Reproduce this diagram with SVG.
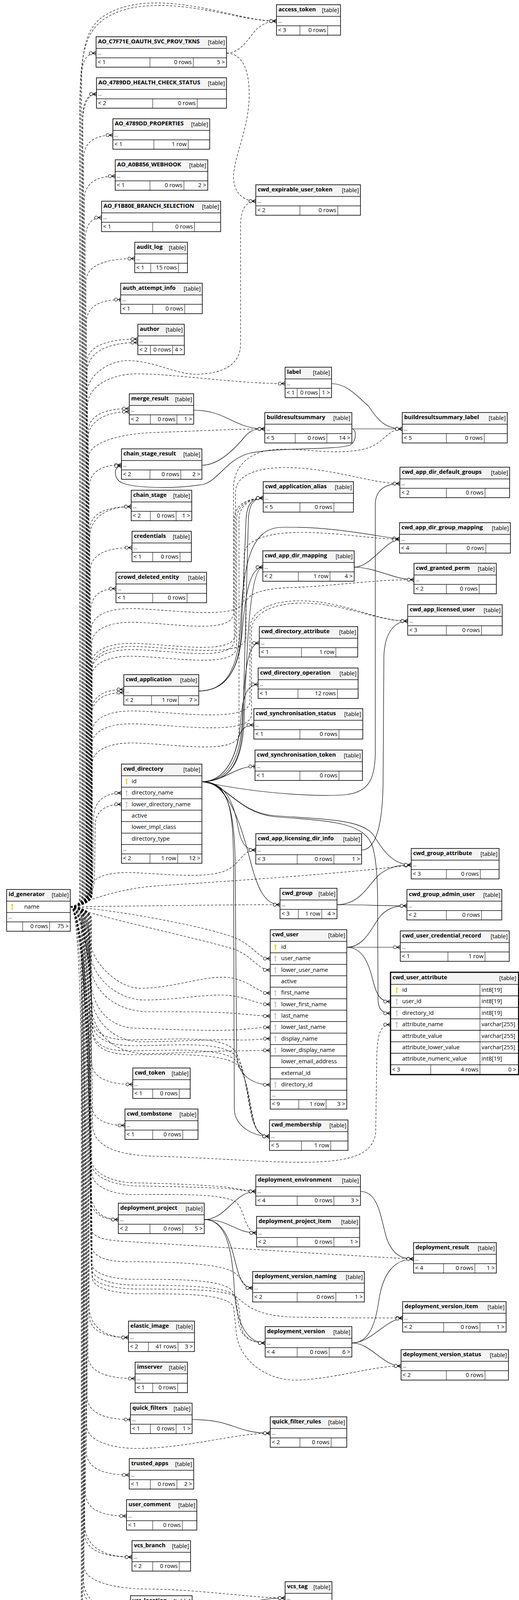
<svg xmlns="http://www.w3.org/2000/svg" width="1329" height="4428" viewBox="0 0 1329 4428">
<style>
.tb{fill:#fff;stroke:none}
.hd{fill:#f4f4f4;stroke:none}
.ol{fill:none;stroke:#000;stroke-width:1.6}
.olb{fill:none;stroke:#000;stroke-width:3}
.sp{fill:none;stroke:#111;stroke-width:1.6}
.cd{fill:none;stroke:#000;stroke-width:1}
text{font-family:'Open Sans','DejaVu Sans',sans-serif;font-size:14.67px;fill:#000}
.ti{font-weight:bold}
.e{text-anchor:end}
.dt{font-size:12px}
.d{fill:none;stroke:#000;stroke-width:1.1;stroke-dasharray:6 4}
.s{fill:none;stroke:#000;stroke-width:1.2}
.m{marker-end:url(#crow)}
.mt{marker-end:url(#tee)}
</style>
<defs>
<marker id="crow" markerUnits="userSpaceOnUse" markerWidth="26" markerHeight="16" viewBox="-22 -8 26 16" refX="0" refY="0" orient="auto">
<path d="M0,-5 L-9,0 L0,5 M-9,0 H0" fill="none" stroke="#000" stroke-width="1.3"/>
<circle cx="-13.5" cy="0" r="4" fill="#fff" stroke="#000" stroke-width="1.2"/>
</marker>
<marker id="tee" markerUnits="userSpaceOnUse" markerWidth="26" markerHeight="16" viewBox="-22 -8 26 16" refX="0" refY="0" orient="auto">
<path d="M-3,-5 V5 M-8,0 H0" fill="none" stroke="#000" stroke-width="1.5"/>
<circle cx="-12" cy="0" r="4" fill="#fff" stroke="#000" stroke-width="1.2"/>
</marker>
<g id="ky"><circle cx="0" cy="-4.5" r="2.6"/><rect x="-1.1" y="-3" width="2.2" height="11"/><rect x="0" y="4" width="2.6" height="1.6"/></g>
</defs>
<rect x="0" y="0" width="1329" height="4428" fill="#fff"/>

<g id="connectors">
<path class="d m" d="M180,2321 C200,2321 209,2312 209,2290 L209,196 C209,156 222,136 246,136"/>
<path class="d m" d="M180,2321 C200,2321 212,2312 212,2290 L212,301 C212,261 224,241 247,241"/>
<path class="d m" d="M180,2321 C200,2321 211,2312 211,2290 L211,325 C211,270 224,241 247,241"/>
<path class="d m" d="M180,2321 C200,2321 214,2312 214,2290 L214,406 C214,366 240,346 289,346"/>
<path class="d m" d="M180,2321 C200,2321 216,2312 216,2290 L216,511 C216,471 244,451 295,451"/>
<path class="d m" d="M180,2321 C200,2321 218,2312 218,2290 L218,617 C218,577 233,557 260,557"/>
<path class="d m" d="M180,2321 C200,2321 220,2312 220,2290 L220,722 C220,682 264,662 345,662"/>
<path class="d mt" d="M180,2321 C200,2321 221,2312 221,2290 L221,827 C221,787 252,767 309,767"/>
<path class="d m" d="M180,2321 C200,2321 223,2312 223,2290 L223,928 C223,888 269,868 353,868"/>
<path class="d m" d="M180,2321 C200,2321 222,2312 222,2290 L222,957 C222,905 268,877 353,877"/>
<path class="d m" d="M180,2321 C200,2321 226,2312 226,2290 L226,1106 C226,1066 263,1046 331,1046"/>
<path class="d m" d="M180,2321 C200,2321 225,2312 225,2290 L225,1124 C225,1084 262,1054 331,1054"/>
<path class="d m" d="M180,2321 C200,2321 228,2312 228,2290 L228,1250 C228,1210 257,1190 311,1190"/>
<path class="d m" d="M180,2321 C200,2321 230,2312 230,2290 L230,1357 C230,1317 267,1297 336,1297"/>
<path class="d m" d="M180,2321 C200,2321 229,2312 229,2290 L229,1380 C229,1330 266,1297 336,1297"/>
<path class="d m" d="M180,2321 C200,2321 231,2312 231,2290 L231,1462 C231,1422 268,1402 338,1402"/>
<path class="d m" d="M180,2321 C200,2321 232,2312 232,2290 L232,1567 C232,1527 255,1507 297,1507"/>
<path class="d m" d="M180,2321 C200,2321 234,2312 234,2290 L234,1825 C234,1785 263,1765 317,1765"/>
<path class="d m" d="M180,2321 C200,2321 233,2312 233,2290 L233,1840 C233,1795 262,1773 317,1773"/>
<path class="d m" d="M180,2321 C205,2321 236,2300 238,2250 L240,2090 C241,2050 270,2030 311,2030"/>
<path class="d m" d="M180,2321 C205,2321 240,2300 242,2250 L244,2110 C245,2075 272,2059 311,2059"/>
<path class="d m" d="M180,2321 C200,2321 234,2330 234,2352 L234,2716 C234,2756 271,2776 340,2776"/>
<path class="d m" d="M180,2321 C200,2321 233,2330 233,2352 L233,2821 C233,2861 263,2881 320,2881"/>
<path class="d m" d="M180,2321 C200,2321 231,2330 231,2352 L231,3062 C231,3102 256,3122 303,3122"/>
<path class="d m" d="M180,2321 C200,2321 230,2330 230,2352 L230,3032 C230,3092 255,3122 303,3122"/>
<path class="d m" d="M180,2321 C200,2321 228,2330 228,2352 L228,3364 C228,3404 263,3424 329,3424"/>
<path class="d m" d="M180,2321 C200,2321 227,2330 227,2352 L227,3334 C227,3394 262,3424 329,3424"/>
<path class="d m" d="M180,2321 C200,2321 225,2330 225,2352 L225,3469 C225,3509 267,3529 346,3529"/>
<path class="d mt" d="M180,2321 C200,2321 223,2330 223,2352 L223,3574 C223,3614 262,3634 334,3634"/>
<path class="d m" d="M180,2321 C200,2321 221,2330 221,2352 L221,3716 C221,3756 260,3776 331,3776"/>
<path class="d m" d="M180,2321 C200,2321 219,2330 219,2352 L219,3821 C219,3861 255,3881 324,3881"/>
<path class="d m" d="M180,2321 C200,2321 217,2330 217,2352 L217,3926 C217,3966 259,3986 338,3986"/>
<path class="d m" d="M180,2321 C200,2321 216,2330 216,2352 L216,3896 C216,3956 258,3986 338,3986"/>
<path class="d m" d="M180,2321 C200,2321 214,2330 214,2352 L214,4067 C214,4107 256,4127 334,4127"/>
<path class="d m" d="M180,2321 C200,2321 213,2330 213,2352 L213,4037 C213,4097 255,4127 334,4127"/>
<path class="d m" d="M180,2321 C200,2321 211,2330 211,2352 L211,4173 C211,4213 245,4233 307,4233"/>
<path class="d m" d="M180,2321 C200,2321 210,2330 210,2352 L210,4143 C210,4203 244,4233 307,4233"/>
<path class="d mt" d="M180,2321 C200,2321 208,2330 208,2352 L208,4278 C208,4318 243,4338 306,4338"/>
<path class="d m" d="M180,2321 C200,2321 206,2312 206,2290 L206,300 C206,140 215,80 260,45 C310,10 370,6 420,8 C540,14 630,54 708,54"/>
<path class="d m" d="M180,2321 C200,2321 204,2312 204,2290 L204,300 C204,150 214,90 262,52 C312,16 375,13 425,14 C545,20 630,54 708,54"/>
<path class="d m" d="M580,136 C620,136 640,90 660,72 C675,60 690,54 708,54"/>
<path class="d m" d="M580,136 C615,136 640,170 638,250 C636,330 600,400 598,450 C597,490 620,515 655,515"/>
<path class="d m" d="M180,2321 C200,2321 222,2312 222,2290 L222,1010 C222,960 280,922 330,923 C400,925 450,960 510,958 C570,955 616,935 616,880 L616,580 C616,535 630,515 655,515"/>
<path class="d m" d="M180,2321 C200,2321 224,2312 224,2290 L224,1040 C224,985 290,957 350,957 C450,957 600,982 730,982"/>
<path class="d m" d="M180,2321 C200,2321 227,2312 227,2290 L227,1170 C227,1135 300,1110 400,1107 C520,1103 600,1098 678,1098"/>
<path class="d m" d="M180,2321 C200,2321 235,2312 235,2290 L235,1648 C235,1608 285,1593 335,1593 C435,1593 598,1628 598,1568 L598,1250 C598,1185 650,1150 720,1150 C800,1150 860,1165 930,1150 C985,1138 990,1098 1030,1098"/>
<path class="d m" d="M180,2321 C200,2321 234,2312 234,2290 L234,1702 C234,1662 284,1647 334,1647 C434,1647 603,1682 603,1622 L603,1260 C603,1220 650,1197 730,1197 C850,1197 950,1238 1024,1238"/>
<path class="d m" d="M180,2321 C200,2321 233,2312 233,2290 L233,1613 C233,1573 283,1558 333,1558 C433,1558 625,1593 625,1533 L625,1420 C625,1385 680,1363 770,1363 C870,1363 950,1380 1023,1380"/>
<path class="d m" d="M180,2321 C200,2321 236,2312 236,2290 L236,1710 C236,1670 286,1655 336,1655 C436,1655 630,1690 630,1630 L630,1545 C630,1518 680,1506 750,1504 C860,1500 950,1484 1060,1484"/>
<path class="d m" d="M180,2321 C200,2321 235,2312 235,2290 L235,1718 C235,1678 285,1663 335,1663 C435,1663 600,1698 600,1638 L600,1330 C600,1295 630,1275 674,1275"/>
<path class="d m" d="M180,2321 C200,2321 234,2312 234,2290 L234,1735 C234,1695 284,1680 334,1680 C434,1680 606,1715 606,1655 L606,1330 C606,1295 635,1275 674,1275"/>
<path class="d m" d="M180,2321 C200,2321 236,2312 236,2290 L236,1957 C236,1917 286,1902 336,1902 C436,1902 612,1937 612,1877 L612,1330 C612,1295 640,1275 674,1275"/>
<path class="d m" d="M180,2321 C200,2321 236,2312 236,2290 L236,1875 C236,1835 286,1820 336,1820 C436,1820 640,1855 640,1795 L640,1610 C640,1565 690,1540 760,1538 C880,1536 960,1590 1044,1590"/>
<path class="d m" d="M180,2321 C200,2321 235,2312 235,2290 L235,1908 C235,1868 285,1853 335,1853 C435,1853 644,1888 644,1828 L644,1614 C644,1572 695,1546 765,1544 C880,1542 960,1590 1044,1590"/>
<path class="d m" d="M180,2321 C200,2321 228,2300 232,2272 C238,2240 290,2232 343,2234 C430,2238 530,2250 580,2228 C615,2212 620,2176 655,2176"/>
<path class="d m" d="M180,2321 C230,2305 300,2275 400,2268 C600,2255 900,2235 1053,2214"/>
<path class="d m" d="M180,2321 C350,2320 550,2316 717,2316"/>
<path class="d m" d="M180,2321 C300,2330 520,2370 600,2400 C650,2420 660,2454 692,2454"/>
<path class="d m" d="M180,2321 C260,2350 500,2400 600,2430 C650,2450 660,2483 692,2483"/>
<path class="d m" d="M180,2321 C210,2321 228,2340 229,2400 C230,2460 300,2530 360,2530 C450,2530 540,2490 600,2505 C650,2518 660,2542 692,2542"/>
<path class="d m" d="M180,2321 C210,2321 229,2350 230,2430 C231,2500 300,2560 370,2560 C460,2560 550,2540 600,2550 C650,2560 660,2571 692,2571"/>
<path class="d m" d="M180,2321 C210,2321 230,2360 231,2460 C232,2540 300,2590 380,2590 C470,2590 560,2590 610,2595 C650,2598 665,2601 692,2601"/>
<path class="d m" d="M180,2321 C210,2321 231,2380 232,2500 C233,2590 290,2630 343,2632 C450,2636 560,2640 610,2636 C650,2633 665,2630 692,2630"/>
<path class="d m" d="M180,2321 C210,2321 232,2400 233,2540 C234,2620 300,2667 360,2667 C450,2667 540,2660 600,2662 C650,2664 665,2659 692,2659"/>
<path class="d m" d="M180,2321 C210,2321 233,2420 234,2570 C235,2650 300,2697 370,2697 C460,2697 550,2690 610,2690 C650,2690 665,2689 692,2689"/>
<path class="d m" d="M180,2321 C210,2321 234,2450 235,2600 C236,2650 280,2662 330,2662 C430,2662 540,2650 590,2680 C625,2700 630,2800 645,2860 C655,2895 668,2909 690,2909"/>
<path class="d m" d="M180,2321 C210,2321 235,2460 236,2615 C237,2665 290,2677 343,2677 C440,2677 545,2665 594,2695 C627,2715 633,2810 647,2865 C656,2897 669,2909 690,2909"/>
<path class="d m" d="M180,2321 C210,2321 235,2470 236,2630 C237,2680 280,2690 326,2690 C430,2690 550,2680 598,2710 C630,2730 636,2820 649,2870 C657,2899 670,2909 690,2909"/>
<path class="d m" d="M180,2321 C210,2321 236,2480 237,2640 C238,2690 290,2700 343,2700 C440,2700 555,2695 602,2722 C633,2742 639,2828 651,2873 C658,2900 671,2909 690,2909"/>
<path class="d m" d="M180,2321 C210,2321 236,2500 237,2880 C238,2930 290,2958 400,2960 C550,2964 700,2978 800,2975 C900,2972 955,2955 962,2900 L965,2700 C967,2645 975,2623 1000,2623"/>
<path class="d m" d="M180,2321 C210,2321 232,2600 232,2960 C232,3005 290,3027 343,3028 C450,3030 560,3035 600,3042 C625,3046 635,3050 655,3050"/>
<path class="d m" d="M180,2321 C210,2321 233,2620 233,2975 C233,3015 295,3035 350,3036 C455,3038 560,3040 605,3045 C628,3048 638,3050 655,3050"/>
<path class="d m" d="M180,2321 C210,2321 235,2600 235,3000 C235,3040 290,3058 343,3058 C450,3058 560,3055 600,3075 C628,3090 625,3156 657,3156"/>
<path class="d m" d="M180,2321 C210,2321 232,2650 232,3140 C232,3165 260,3175 320,3178 C600,3195 900,3215 1059,3223"/>
<path class="d m" d="M180,2321 C210,2321 232,2680 232,3180 C232,3215 265,3230 330,3230 C440,3230 560,3235 595,3255 C625,3272 620,3297 647,3297"/>
<path class="d m" d="M180,2321 C210,2321 233,2700 233,3230 C233,3262 290,3275 343,3275 C450,3275 560,3275 590,3300 C606,3315 606,3340 610,3380 C614,3420 640,3438 679,3438"/>
<path class="d m" d="M180,2321 C210,2321 234,2710 234,3245 C234,3277 295,3290 350,3290 C455,3290 563,3292 595,3312 C612,3326 612,3350 616,3388 C620,3424 645,3438 679,3438"/>
<path class="d m" d="M180,2321 C210,2321 235,2720 235,3260 C235,3290 300,3300 360,3300 C460,3300 575,3300 605,3320 C630,3338 650,3370 760,3372 C900,3374 980,3374 1031,3374"/>
<path class="d m" d="M180,2321 C210,2321 236,2730 236,3270 C236,3300 300,3312 360,3312 C470,3312 580,3312 598,3345 L606,3420 C615,3480 680,3535 760,3533 C860,3530 950,3497 1027,3497"/>
<path class="d m" d="M180,2321 C210,2321 222,2700 222,3650 C222,3690 290,3708 350,3708 C480,3708 600,3669 692,3669"/>
<path class="d m" d="M180,2321 C210,2321 215,2800 215,4010 C215,4050 300,4068 380,4068 C500,4068 650,4091 730,4091"/>

<path class="s m" d="M496,1050 C580,1050 600,1098 678,1098"/>
<path class="s m" d="M517,1191 C560,1191 600,1150 625,1120 C640,1102 650,1098 678,1098"/>
<path class="s m" d="M901,1098 L1030,1098"/>
<path class="s m" d="M849,982 C890,982 920,1020 944,1040 C970,1080 990,1098 1030,1098"/>
<path class="s m" d="M901,1098 C914,1098 914,1132 895,1140 C860,1152 700,1146 640,1160 C580,1175 560,1230 520,1240 C450,1252 345,1250 312,1236 C290,1226 290,1193 311,1193"/>
<path class="s m" d="M509,1769 C575,1769 612,1720 618,1620 L630,1330 C632,1290 645,1275 674,1275"/>
<path class="s m" d="M509,1769 C575,1769 612,1720 620,1620 C628,1520 640,1452 673,1452"/>
<path class="s m" d="M509,1769 C575,1769 610,1720 616,1600 C622,1450 640,1352 720,1350 C850,1347 960,1372 1023,1380"/>
<path class="s m" d="M517,2001 C590,2001 618,1950 622,1850 L636,1330 C638,1290 650,1275 674,1275"/>
<path class="s m" d="M517,2001 C590,2001 620,1950 625,1850 C632,1650 640,1452 673,1452"/>
<path class="s m" d="M517,2001 C585,2001 615,1940 620,1850 C626,1740 630,1646 664,1646"/>
<path class="s m" d="M517,2001 C580,2001 610,1930 616,1850 C620,1790 630,1752 661,1752"/>
<path class="s m" d="M517,2001 C575,2001 600,1940 608,1900 C614,1870 625,1856 650,1856"/>
<path class="s mt" d="M517,2001 C575,2001 600,1962 653,1962"/>
<path class="s m" d="M517,2001 C580,2001 600,2060 610,2120 C618,2160 630,2176 655,2176"/>
<path class="s m" d="M517,2001 C580,2001 615,2100 640,2200 C660,2280 680,2316 717,2316"/>
<path class="s m" d="M517,2001 C585,2001 600,2080 602,2200 L606,2700 C608,2755 650,2777 692,2777"/>
<path class="s m" d="M517,2001 C590,2001 596,2080 598,2200 L600,2840 C602,2885 650,2909 690,2909"/>
<path class="s m" d="M517,2001 C580,2005 610,2080 700,2088 C840,2098 930,2098 958,2140 C985,2185 1010,2214 1053,2214"/>
<path class="s m" d="M517,2001 C580,2005 612,2083 705,2091 C840,2102 935,2102 955,2170 C965,2210 967,2260 967,2320 L968,2560 C969,2585 980,2594 1000,2594"/>
<path class="s m" d="M517,2001 C650,2030 800,2040 880,2035 C940,2030 960,2000 961,1930 L961,1290 C962,1252 990,1238 1024,1238"/>
<path class="s m" d="M907,1452 C950,1452 985,1385 1023,1380"/>
<path class="s m" d="M907,1452 C960,1452 1010,1484 1060,1484"/>
<path class="s m" d="M926,2176 C960,2176 980,2120 981,2000 L983,1680 C985,1620 1010,1590 1044,1590"/>
<path class="s m" d="M863,2316 C950,2316 960,2319 1042,2319"/>
<path class="s m" d="M863,2316 C920,2316 940,2270 970,2240 C995,2220 1020,2214 1053,2214"/>
<path class="s m" d="M888,2425 L1025,2425"/>
<path class="s m" d="M888,2425 C930,2425 950,2380 970,2350 C990,2325 1010,2319 1042,2319"/>
<path class="s m" d="M888,2425 C930,2425 945,2470 955,2510 C965,2550 975,2564 1000,2564"/>
<path class="s m" d="M523,3122 C580,3122 600,3050 655,3050"/>
<path class="s m" d="M523,3122 C590,3122 600,3156 657,3156"/>
<path class="s m" d="M523,3122 C575,3122 590,3180 605,3240 C615,3280 625,3297 647,3297"/>
<path class="s m" d="M523,3122 C580,3122 595,3200 600,3300 C605,3400 640,3438 679,3438"/>
<path class="s m" d="M923,3050 C970,3050 975,3120 990,3170 C1005,3210 1025,3223 1059,3223"/>
<path class="s m" d="M901,3438 C940,3438 960,3400 970,3330 C980,3260 1010,3223 1059,3223"/>
<path class="s m" d="M901,3438 C950,3438 985,3380 1031,3374"/>
<path class="s m" d="M901,3438 C950,3438 980,3497 1027,3497"/>
<path class="s m" d="M492,3634 C600,3634 600,3669 692,3669"/>
<path class="s m" d="M492,4127 C620,4127 620,4091 730,4091"/>
</g>

<g id="access_token"><rect class="tb" x="708" y="12" width="164" height="78"/><rect class="hd" x="708" y="12" width="164" height="30"/><path class="sp" d="M708 42H872M708 66H872"/><path class="cd" d="M768 66V90M839 66V90"/><rect class="ol" x="708" y="12" width="164" height="78"/><text class="ti" x="713" y="29">access_token</text><text class="e" x="868" y="31">[table]</text><text class="dt" x="712" y="58">...</text><text x="712" y="82">&lt; 3</text><text class="e" x="835" y="82">0 rows</text></g>

<g id="AO_C7F71E_OAUTH_SVC_PROV_TKNS"><rect class="tb" x="246" y="94" width="334" height="78"/><rect class="hd" x="246" y="94" width="334" height="30"/><path class="sp" d="M246 124H580M246 148H580"/><path class="cd" d="M384 148V172M495 148V172"/><rect class="ol" x="246" y="94" width="334" height="78"/><text class="ti" x="251" y="111">AO_C7F71E_OAUTH_SVC_PROV_TKNS</text><text class="e" x="576" y="113">[table]</text><text class="dt" x="250" y="140">...</text><text x="250" y="164">&lt; 1</text><text class="e" x="491" y="164">0 rows</text><text class="e" x="576" y="164">5 &gt;</text></g>

<g id="AO_4789DD_HEALTH_CHECK_STATUS"><rect class="tb" x="247" y="199" width="333" height="78"/><rect class="hd" x="247" y="199" width="333" height="30"/><path class="sp" d="M247 229H580M247 253H580"/><path class="cd" d="M391 253V277M505 253V277"/><rect class="ol" x="247" y="199" width="333" height="78"/><text class="ti" x="252" y="216">AO_4789DD_HEALTH_CHECK_STATUS</text><text class="e" x="576" y="218">[table]</text><text class="dt" x="251" y="245">...</text><text x="251" y="269">&lt; 2</text><text class="e" x="501" y="269">0 rows</text></g>

<g id="AO_4789DD_PROPERTIES"><rect class="tb" x="289" y="304" width="248" height="78"/><rect class="hd" x="289" y="304" width="248" height="30"/><path class="sp" d="M289 334H537M289 358H537"/><path class="cd" d="M394 358V382M482 358V382"/><rect class="ol" x="289" y="304" width="248" height="78"/><text class="ti" x="294" y="321">AO_4789DD_PROPERTIES</text><text class="e" x="533" y="323">[table]</text><text class="dt" x="293" y="350">...</text><text x="293" y="374">&lt; 1</text><text class="e" x="478" y="374">1 row</text></g>

<g id="AO_A0B856_WEBHOOK"><rect class="tb" x="295" y="409" width="237" height="78"/><rect class="hd" x="295" y="409" width="237" height="30"/><path class="sp" d="M295 439H532M295 463H532"/><path class="cd" d="M384 463V487M471 463V487"/><rect class="ol" x="295" y="409" width="237" height="78"/><text class="ti" x="300" y="426">AO_A0B856_WEBHOOK</text><text class="e" x="528" y="428">[table]</text><text class="dt" x="299" y="455">...</text><text x="299" y="479">&lt; 1</text><text class="e" x="467" y="479">0 rows</text><text class="e" x="528" y="479">2 &gt;</text></g>

<g id="cwd_expirable_user_token"><rect class="tb" x="655" y="473" width="268" height="78"/><rect class="hd" x="655" y="473" width="268" height="30"/><path class="sp" d="M655 503H923M655 527H923"/><path class="cd" d="M768 527V551M865 527V551"/><rect class="ol" x="655" y="473" width="268" height="78"/><text class="ti" x="660" y="490">cwd_expirable_user_token</text><text class="e" x="919" y="492">[table]</text><text class="dt" x="659" y="519">...</text><text x="659" y="543">&lt; 2</text><text class="e" x="861" y="543">0 rows</text></g>

<g id="AO_F1B80E_BRANCH_SELECTION"><rect class="tb" x="260" y="515" width="305" height="78"/><rect class="hd" x="260" y="515" width="305" height="30"/><path class="sp" d="M260 545H565M260 569H565"/><path class="cd" d="M391 569V593M498 569V593"/><rect class="ol" x="260" y="515" width="305" height="78"/><text class="ti" x="265" y="532">AO_F1B80E_BRANCH_SELECTION</text><text class="e" x="561" y="534">[table]</text><text class="dt" x="264" y="561">...</text><text x="264" y="585">&lt; 1</text><text class="e" x="494" y="585">0 rows</text></g>

<g id="audit_log"><rect class="tb" x="345" y="620" width="135" height="78"/><rect class="hd" x="345" y="620" width="135" height="30"/><path class="sp" d="M345 650H480M345 674H480"/><path class="cd" d="M386 674V698M457 674V698"/><rect class="ol" x="345" y="620" width="135" height="78"/><text class="ti" x="350" y="637">audit_log</text><text class="e" x="476" y="639">[table]</text><text class="dt" x="349" y="666">...</text><text x="349" y="690">&lt; 1</text><text class="e" x="453" y="690">15 rows</text></g>

<g id="auth_attempt_info"><rect class="tb" x="309" y="725" width="209" height="78"/><rect class="hd" x="309" y="725" width="209" height="30"/><path class="sp" d="M309 755H518M309 779H518"/><path class="cd" d="M391 779V803M473 779V803"/><rect class="ol" x="309" y="725" width="209" height="78"/><text class="ti" x="314" y="742">auth_attempt_info</text><text class="e" x="514" y="744">[table]</text><text class="dt" x="313" y="771">...</text><text x="313" y="795">&lt; 1</text><text class="e" x="469" y="795">0 rows</text></g>

<g id="author"><rect class="tb" x="353" y="830" width="119" height="78"/><rect class="hd" x="353" y="830" width="119" height="30"/><path class="sp" d="M353 860H472M353 884H472"/><path class="cd" d="M385 884V908M442 884V908"/><rect class="ol" x="353" y="830" width="119" height="78"/><text class="ti" x="358" y="847">author</text><text class="e" x="468" y="849">[table]</text><text class="dt" x="357" y="876">...</text><text x="357" y="900">&lt; 2</text><text class="e" x="438" y="900">0 rows</text><text class="e" x="468" y="900">4 &gt;</text></g>

<g id="label"><rect class="tb" x="730" y="940" width="119" height="78"/><rect class="hd" x="730" y="940" width="119" height="30"/><path class="sp" d="M730 970H849M730 994H849"/><path class="cd" d="M761 994V1018M818 994V1018"/><rect class="ol" x="730" y="940" width="119" height="78"/><text class="ti" x="735" y="957">label</text><text class="e" x="845" y="959">[table]</text><text class="dt" x="734" y="986">...</text><text x="734" y="1010">&lt; 1</text><text class="e" x="814" y="1010">0 rows</text><text class="e" x="845" y="1010">1 &gt;</text></g>

<g id="merge_result"><rect class="tb" x="331" y="1008" width="165" height="78"/><rect class="hd" x="331" y="1008" width="165" height="30"/><path class="sp" d="M331 1038H496M331 1062H496"/><path class="cd" d="M385 1062V1086M453 1062V1086"/><rect class="ol" x="331" y="1008" width="165" height="78"/><text class="ti" x="336" y="1025">merge_result</text><text class="e" x="492" y="1027">[table]</text><text class="dt" x="335" y="1054">...</text><text x="335" y="1078">&lt; 2</text><text class="e" x="449" y="1078">0 rows</text><text class="e" x="492" y="1078">1 &gt;</text></g>

<g id="buildresultsummary"><rect class="tb" x="678" y="1056" width="223" height="78"/><rect class="hd" x="678" y="1056" width="223" height="30"/><path class="sp" d="M678 1086H901M678 1110H901"/><path class="cd" d="M756 1110V1134M837 1110V1134"/><rect class="ol" x="678" y="1056" width="223" height="78"/><text class="ti" x="683" y="1073">buildresultsummary</text><text class="e" x="897" y="1075">[table]</text><text class="dt" x="682" y="1102">...</text><text x="682" y="1126">&lt; 5</text><text class="e" x="833" y="1126">0 rows</text><text class="e" x="897" y="1126">14 &gt;</text></g>

<g id="buildresultsummary_label"><rect class="tb" x="1030" y="1056" width="269" height="78"/><rect class="hd" x="1030" y="1056" width="269" height="30"/><path class="sp" d="M1030 1086H1299M1030 1110H1299"/><path class="cd" d="M1143 1110V1134M1240 1110V1134"/><rect class="ol" x="1030" y="1056" width="269" height="78"/><text class="ti" x="1035" y="1073">buildresultsummary_label</text><text class="e" x="1295" y="1075">[table]</text><text class="dt" x="1034" y="1102">...</text><text x="1034" y="1126">&lt; 5</text><text class="e" x="1236" y="1126">0 rows</text></g>

<g id="chain_stage_result"><rect class="tb" x="311" y="1149" width="206" height="78"/><rect class="hd" x="311" y="1149" width="206" height="30"/><path class="sp" d="M311 1179H517M311 1203H517"/><path class="cd" d="M384 1203V1227M463 1203V1227"/><rect class="ol" x="311" y="1149" width="206" height="78"/><text class="ti" x="316" y="1166">chain_stage_result</text><text class="e" x="513" y="1168">[table]</text><text class="dt" x="315" y="1195">...</text><text x="315" y="1219">&lt; 2</text><text class="e" x="459" y="1219">0 rows</text><text class="e" x="513" y="1219">2 &gt;</text></g>

<g id="cwd_app_dir_default_groups"><rect class="tb" x="1024" y="1196" width="281" height="78"/><rect class="hd" x="1024" y="1196" width="281" height="30"/><path class="sp" d="M1024 1226H1305M1024 1250H1305"/><path class="cd" d="M1143 1250V1274M1242 1250V1274"/><rect class="ol" x="1024" y="1196" width="281" height="78"/><text class="ti" x="1029" y="1213">cwd_app_dir_default_groups</text><text class="e" x="1301" y="1215">[table]</text><text class="dt" x="1028" y="1242">...</text><text x="1028" y="1266">&lt; 2</text><text class="e" x="1238" y="1266">0 rows</text></g>

<g id="cwd_application_alias"><rect class="tb" x="674" y="1233" width="231" height="78"/><rect class="hd" x="674" y="1233" width="231" height="30"/><path class="sp" d="M674 1263H905M674 1287H905"/><path class="cd" d="M768 1287V1311M855 1287V1311"/><rect class="ol" x="674" y="1233" width="231" height="78"/><text class="ti" x="679" y="1250">cwd_application_alias</text><text class="e" x="901" y="1252">[table]</text><text class="dt" x="678" y="1279">...</text><text x="678" y="1303">&lt; 5</text><text class="e" x="851" y="1303">0 rows</text></g>

<g id="chain_stage"><rect class="tb" x="336" y="1255" width="155" height="78"/><rect class="hd" x="336" y="1255" width="155" height="30"/><path class="sp" d="M336 1285H491M336 1309H491"/><path class="cd" d="M385 1309V1333M451 1309V1333"/><rect class="ol" x="336" y="1255" width="155" height="78"/><text class="ti" x="341" y="1272">chain_stage</text><text class="e" x="487" y="1274">[table]</text><text class="dt" x="340" y="1301">...</text><text x="340" y="1325">&lt; 2</text><text class="e" x="447" y="1325">0 rows</text><text class="e" x="487" y="1325">1 &gt;</text></g>

<g id="cwd_app_dir_group_mapping"><rect class="tb" x="1023" y="1338" width="284" height="78"/><rect class="hd" x="1023" y="1338" width="284" height="30"/><path class="sp" d="M1023 1368H1307M1023 1392H1307"/><path class="cd" d="M1143 1392V1416M1244 1392V1416"/><rect class="ol" x="1023" y="1338" width="284" height="78"/><text class="ti" x="1028" y="1355">cwd_app_dir_group_mapping</text><text class="e" x="1303" y="1357">[table]</text><text class="dt" x="1027" y="1384">...</text><text x="1027" y="1408">&lt; 4</text><text class="e" x="1240" y="1408">0 rows</text></g>

<g id="credentials"><rect class="tb" x="338" y="1360" width="152" height="78"/><rect class="hd" x="338" y="1360" width="152" height="30"/><path class="sp" d="M338 1390H490M338 1414H490"/><path class="cd" d="M391 1414V1438M461 1414V1438"/><rect class="ol" x="338" y="1360" width="152" height="78"/><text class="ti" x="343" y="1377">credentials</text><text class="e" x="486" y="1379">[table]</text><text class="dt" x="342" y="1406">...</text><text x="342" y="1430">&lt; 1</text><text class="e" x="457" y="1430">0 rows</text></g>

<g id="cwd_app_dir_mapping"><rect class="tb" x="673" y="1410" width="234" height="78"/><rect class="hd" x="673" y="1410" width="234" height="30"/><path class="sp" d="M673 1440H907M673 1464H907"/><path class="cd" d="M764 1464V1488M845 1464V1488"/><rect class="ol" x="673" y="1410" width="234" height="78"/><text class="ti" x="678" y="1427">cwd_app_dir_mapping</text><text class="e" x="903" y="1429">[table]</text><text class="dt" x="677" y="1456">...</text><text x="677" y="1480">&lt; 2</text><text class="e" x="841" y="1480">1 row</text><text class="e" x="903" y="1480">4 &gt;</text></g>

<g id="cwd_granted_perm"><rect class="tb" x="1060" y="1442" width="211" height="78"/><rect class="hd" x="1060" y="1442" width="211" height="30"/><path class="sp" d="M1060 1472H1271M1060 1496H1271"/><path class="cd" d="M1143 1496V1520M1227 1496V1520"/><rect class="ol" x="1060" y="1442" width="211" height="78"/><text class="ti" x="1065" y="1459">cwd_granted_perm</text><text class="e" x="1267" y="1461">[table]</text><text class="dt" x="1064" y="1488">...</text><text x="1064" y="1512">&lt; 2</text><text class="e" x="1223" y="1512">0 rows</text></g>

<g id="crowd_deleted_entity"><rect class="tb" x="297" y="1465" width="232" height="78"/><rect class="hd" x="297" y="1465" width="232" height="30"/><path class="sp" d="M297 1495H529M297 1519H529"/><path class="cd" d="M391 1519V1543M479 1519V1543"/><rect class="ol" x="297" y="1465" width="232" height="78"/><text class="ti" x="302" y="1482">crowd_deleted_entity</text><text class="e" x="525" y="1484">[table]</text><text class="dt" x="301" y="1511">...</text><text x="301" y="1535">&lt; 1</text><text class="e" x="475" y="1535">0 rows</text></g>

<g id="cwd_app_licensed_user"><rect class="tb" x="1044" y="1548" width="242" height="78"/><rect class="hd" x="1044" y="1548" width="242" height="30"/><path class="sp" d="M1044 1578H1286M1044 1602H1286"/><path class="cd" d="M1143 1602V1626M1233 1602V1626"/><rect class="ol" x="1044" y="1548" width="242" height="78"/><text class="ti" x="1049" y="1565">cwd_app_licensed_user</text><text class="e" x="1282" y="1567">[table]</text><text class="dt" x="1048" y="1594">...</text><text x="1048" y="1618">&lt; 3</text><text class="e" x="1229" y="1618">0 rows</text></g>

<g id="cwd_directory_attribute"><rect class="tb" x="664" y="1604" width="252" height="78"/><rect class="hd" x="664" y="1604" width="252" height="30"/><path class="sp" d="M664 1634H916M664 1658H916"/><path class="cd" d="M772 1658V1682M860 1658V1682"/><rect class="ol" x="664" y="1604" width="252" height="78"/><text class="ti" x="669" y="1621">cwd_directory_attribute</text><text class="e" x="912" y="1623">[table]</text><text class="dt" x="668" y="1650">...</text><text x="668" y="1674">&lt; 1</text><text class="e" x="856" y="1674">1 row</text></g>

<g id="cwd_directory_operation"><rect class="tb" x="661" y="1710" width="256" height="78"/><rect class="hd" x="661" y="1710" width="256" height="30"/><path class="sp" d="M661 1740H917M661 1764H917"/><path class="cd" d="M763 1764V1788M864 1764V1788"/><rect class="ol" x="661" y="1710" width="256" height="78"/><text class="ti" x="666" y="1727">cwd_directory_operation</text><text class="e" x="913" y="1729">[table]</text><text class="dt" x="665" y="1756">...</text><text x="665" y="1780">&lt; 1</text><text class="e" x="860" y="1780">12 rows</text></g>

<g id="cwd_application"><rect class="tb" x="317" y="1727" width="192" height="78"/><rect class="hd" x="317" y="1727" width="192" height="30"/><path class="sp" d="M317 1757H509M317 1781H509"/><path class="cd" d="M388 1781V1805M457 1781V1805"/><rect class="ol" x="317" y="1727" width="192" height="78"/><text class="ti" x="322" y="1744">cwd_application</text><text class="e" x="505" y="1746">[table]</text><text class="dt" x="321" y="1773">...</text><text x="321" y="1797">&lt; 2</text><text class="e" x="453" y="1797">1 row</text><text class="e" x="505" y="1797">7 &gt;</text></g>

<g id="cwd_synchronisation_status"><rect class="tb" x="650" y="1814" width="279" height="78"/><rect class="hd" x="650" y="1814" width="279" height="30"/><path class="sp" d="M650 1844H929M650 1868H929"/><path class="cd" d="M768 1868V1892M868 1868V1892"/><rect class="ol" x="650" y="1814" width="279" height="78"/><text class="ti" x="655" y="1831">cwd_synchronisation_status</text><text class="e" x="925" y="1833">[table]</text><text class="dt" x="654" y="1860">...</text><text x="654" y="1884">&lt; 1</text><text class="e" x="864" y="1884">0 rows</text></g>

<g id="cwd_synchronisation_token"><rect class="tb" x="653" y="1920" width="275" height="78"/><rect class="hd" x="653" y="1920" width="275" height="30"/><path class="sp" d="M653 1950H928M653 1974H928"/><path class="cd" d="M768 1974V1998M868 1974V1998"/><rect class="ol" x="653" y="1920" width="275" height="78"/><text class="ti" x="658" y="1937">cwd_synchronisation_token</text><text class="e" x="924" y="1939">[table]</text><text class="dt" x="657" y="1966">...</text><text x="657" y="1990">&lt; 1</text><text class="e" x="864" y="1990">0 rows</text></g>

<g id="cwd_directory"><rect class="tb" x="311" y="1956" width="206" height="254"/><rect class="hd" x="311" y="1956" width="206" height="30"/><path class="sp" d="M311 1986H517M311 2015.3H517M311 2044.7H517M311 2074H517M311 2103.3H517M311 2132.7H517M311 2162H517M311 2186H517"/><path class="cd" d="M384 2186V2210M455 2186V2210"/><rect class="ol" x="311" y="1956" width="206" height="254"/><text class="ti" x="316" y="1973">cwd_directory</text><text class="e" x="513" y="1975">[table]</text><use href="#ky" x="324" y="2000.7" fill="#dede00"/><text x="337" y="2005">id</text><use href="#ky" x="324" y="2030" fill="#c4c4c4"/><text x="337" y="2034.3">directory_name</text><use href="#ky" x="324" y="2059.3" fill="#c4c4c4"/><text x="337" y="2063.7">lower_directory_name</text><text x="337" y="2093">active</text><text x="337" y="2122.3">lower_impl_class</text><text x="337" y="2151.7">directory_type</text><text class="dt" x="315" y="2178">...</text><text x="315" y="2202">&lt; 2</text><text class="e" x="451" y="2202">1 row</text><text class="e" x="513" y="2202">12 &gt;</text></g>

<g id="cwd_app_licensing_dir_info"><rect class="tb" x="655" y="2134" width="271" height="78"/><rect class="hd" x="655" y="2134" width="271" height="30"/><path class="sp" d="M655 2164H926M655 2188H926"/><path class="cd" d="M761 2188V2212M855 2188V2212"/><rect class="ol" x="655" y="2134" width="271" height="78"/><text class="ti" x="660" y="2151">cwd_app_licensing_dir_info</text><text class="e" x="922" y="2153">[table]</text><text class="dt" x="659" y="2180">...</text><text x="659" y="2204">&lt; 3</text><text class="e" x="851" y="2204">0 rows</text><text class="e" x="922" y="2204">1 &gt;</text></g>

<g id="cwd_group_attribute"><rect class="tb" x="1053" y="2172" width="225" height="78"/><rect class="hd" x="1053" y="2172" width="225" height="30"/><path class="sp" d="M1053 2202H1278M1053 2226H1278"/><path class="cd" d="M1143 2226V2250M1230 2226V2250"/><rect class="ol" x="1053" y="2172" width="225" height="78"/><text class="ti" x="1058" y="2189">cwd_group_attribute</text><text class="e" x="1274" y="2191">[table]</text><text class="dt" x="1057" y="2218">...</text><text x="1057" y="2242">&lt; 3</text><text class="e" x="1226" y="2242">0 rows</text></g>

<g id="id_generator"><rect class="tb" x="17" y="2277" width="163" height="107"/><rect class="hd" x="17" y="2277" width="163" height="30"/><path class="sp" d="M17 2307H180M17 2336H180M17 2360H180"/><path class="cd" d="M58 2360V2384M127 2360V2384"/><rect class="ol" x="17" y="2277" width="163" height="107"/><text class="ti" x="22" y="2294">id_generator</text><text class="e" x="176" y="2296">[table]</text><use href="#ky" x="31" y="2321" fill="#dede00"/><text x="62" y="2326">name</text><text class="dt" x="21" y="2352">...</text><text class="e" x="123" y="2376">0 rows</text><text class="e" x="176" y="2376">75 &gt;</text></g>

<g id="cwd_group"><rect class="tb" x="717" y="2274" width="146" height="78"/><rect class="hd" x="717" y="2274" width="146" height="30"/><path class="sp" d="M717 2304H863M717 2328H863"/><path class="cd" d="M764 2328V2352M824 2328V2352"/><rect class="ol" x="717" y="2274" width="146" height="78"/><text class="ti" x="722" y="2291">cwd_group</text><text class="e" x="859" y="2293">[table]</text><text class="dt" x="721" y="2320">...</text><text x="721" y="2344">&lt; 3</text><text class="e" x="820" y="2344">1 row</text><text class="e" x="859" y="2344">4 &gt;</text></g>

<g id="cwd_group_admin_user"><rect class="tb" x="1042" y="2277" width="243" height="78"/><rect class="hd" x="1042" y="2277" width="243" height="30"/><path class="sp" d="M1042 2307H1285M1042 2331H1285"/><path class="cd" d="M1143 2331V2355M1233 2331V2355"/><rect class="ol" x="1042" y="2277" width="243" height="78"/><text class="ti" x="1047" y="2294">cwd_group_admin_user</text><text class="e" x="1281" y="2296">[table]</text><text class="dt" x="1046" y="2323">...</text><text x="1046" y="2347">&lt; 2</text><text class="e" x="1229" y="2347">0 rows</text></g>

<g id="cwd_user_credential_record"><rect class="tb" x="1025" y="2383" width="279" height="78"/><rect class="hd" x="1025" y="2383" width="279" height="30"/><path class="sp" d="M1025 2413H1304M1025 2437H1304"/><path class="cd" d="M1147 2437V2461M1242 2437V2461"/><rect class="ol" x="1025" y="2383" width="279" height="78"/><text class="ti" x="1030" y="2400">cwd_user_credential_record</text><text class="e" x="1300" y="2402">[table]</text><text class="dt" x="1029" y="2429">...</text><text x="1029" y="2453">&lt; 1</text><text class="e" x="1238" y="2453">1 row</text></g>

<g id="cwd_user"><rect class="tb" x="692" y="2380" width="196" height="459.3"/><rect class="hd" x="692" y="2380" width="196" height="30"/><path class="sp" d="M692 2410H888M692 2439.3H888M692 2468.7H888M692 2498H888M692 2527.3H888M692 2556.7H888M692 2586H888M692 2615.3H888M692 2644.7H888M692 2674H888M692 2703.3H888M692 2732.7H888M692 2762H888M692 2791.3H888M692 2815.3H888"/><path class="cd" d="M765 2815.3V2839.3M835 2815.3V2839.3"/><rect class="ol" x="692" y="2380" width="196" height="459.3"/><text class="ti" x="697" y="2397">cwd_user</text><text class="e" x="884" y="2399">[table]</text>
<use href="#ky" x="705" y="2424.7" fill="#dede00"/><text x="720" y="2429">id</text>
<use href="#ky" x="705" y="2454" fill="#c4c4c4"/><text x="720" y="2458.3">user_name</text>
<use href="#ky" x="705" y="2483.3" fill="#c4c4c4"/><text x="720" y="2487.7">lower_user_name</text>
<text x="720" y="2517">active</text>
<use href="#ky" x="705" y="2542" fill="#c4c4c4"/><text x="720" y="2546.3">first_name</text>
<use href="#ky" x="705" y="2571.3" fill="#c4c4c4"/><text x="720" y="2575.7">lower_first_name</text>
<use href="#ky" x="705" y="2600.7" fill="#c4c4c4"/><text x="720" y="2605">last_name</text>
<use href="#ky" x="705" y="2630" fill="#c4c4c4"/><text x="720" y="2634.3">lower_last_name</text>
<use href="#ky" x="705" y="2659.3" fill="#c4c4c4"/><text x="720" y="2663.7">display_name</text>
<use href="#ky" x="705" y="2688.7" fill="#c4c4c4"/><text x="720" y="2693">lower_display_name</text>
<text x="720" y="2722.3">lower_email_address</text>
<text x="720" y="2751.7">external_id</text>
<use href="#ky" x="705" y="2776.7" fill="#c4c4c4"/><text x="720" y="2781">directory_id</text>
<text class="dt" x="696" y="2807">...</text><text x="696" y="2831">&lt; 9</text><text class="e" x="831" y="2831">1 row</text><text class="e" x="884" y="2831">3 &gt;</text></g>

<g id="cwd_user_attribute"><rect class="tb" x="1000" y="2489" width="328" height="262"/><rect class="hd" x="1000" y="2489" width="328" height="31"/><path class="sp" d="M1000 2520H1328M1000 2549.4H1328M1000 2578.8H1328M1000 2608.2H1328M1000 2637.6H1328M1000 2667H1328M1000 2696.4H1328M1000 2725.8H1328"/><path class="cd" d="M1229 2520V2725.8M1103 2725.8V2751M1229 2725.8V2751"/><rect class="olb" x="1000" y="2489" width="328" height="262"/><text class="ti" x="1005" y="2507">cwd_user_attribute</text><text class="e" x="1322" y="2509">[table]</text>
<use href="#ky" x="1016" y="2534.7" fill="#dede00"/><text x="1030" y="2539">id</text><text x="1233" y="2539">int8[19]</text>
<use href="#ky" x="1016" y="2564.1" fill="#c4c4c4"/><text x="1030" y="2568.4">user_id</text><text x="1233" y="2568.4">int8[19]</text>
<use href="#ky" x="1016" y="2593.5" fill="#c4c4c4"/><text x="1030" y="2597.8">directory_id</text><text x="1233" y="2597.8">int8[19]</text>
<use href="#ky" x="1016" y="2622.9" fill="#c4c4c4"/><text x="1030" y="2627.2">attribute_name</text><text x="1233" y="2627.2">varchar[255]</text>
<text x="1030" y="2656.6">attribute_value</text><text x="1233" y="2656.6">varchar[255]</text>
<text x="1030" y="2686">attribute_lower_value</text><text x="1233" y="2686">varchar[255]</text>
<text x="1030" y="2715.4">attribute_numeric_value</text><text x="1233" y="2715.4">int8[19]</text>
<text x="1004" y="2743">&lt; 3</text><text class="e" x="1225" y="2743">4 rows</text><text class="e" x="1322" y="2743">0 &gt;</text></g>

<g id="cwd_token"><rect class="tb" x="340" y="2734" width="147" height="78"/><rect class="hd" x="340" y="2734" width="147" height="30"/><path class="sp" d="M340 2764H487M340 2788H487"/><path class="cd" d="M391 2788V2812M459 2788V2812"/><rect class="ol" x="340" y="2734" width="147" height="78"/><text class="ti" x="345" y="2751">cwd_token</text><text class="e" x="483" y="2753">[table]</text><text class="dt" x="344" y="2780">...</text><text x="344" y="2804">&lt; 1</text><text class="e" x="455" y="2804">0 rows</text></g>

<g id="cwd_tombstone"><rect class="tb" x="320" y="2839" width="187" height="78"/><rect class="hd" x="320" y="2839" width="187" height="30"/><path class="sp" d="M320 2869H507M320 2893H507"/><path class="cd" d="M391 2893V2917M468 2893V2917"/><rect class="ol" x="320" y="2839" width="187" height="78"/><text class="ti" x="325" y="2856">cwd_tombstone</text><text class="e" x="503" y="2858">[table]</text><text class="dt" x="324" y="2885">...</text><text x="324" y="2909">&lt; 1</text><text class="e" x="464" y="2909">0 rows</text></g>

<g id="cwd_membership"><rect class="tb" x="690" y="2867" width="201" height="78"/><rect class="hd" x="690" y="2867" width="201" height="30"/><path class="sp" d="M690 2897H891M690 2921H891"/><path class="cd" d="M772 2921V2945M847 2921V2945"/><rect class="ol" x="690" y="2867" width="201" height="78"/><text class="ti" x="695" y="2884">cwd_membership</text><text class="e" x="887" y="2886">[table]</text><text class="dt" x="694" y="2913">...</text><text x="694" y="2937">&lt; 5</text><text class="e" x="843" y="2937">1 row</text></g>

<g id="deployment_environment"><rect class="tb" x="655" y="3008" width="268" height="78"/><rect class="hd" x="655" y="3008" width="268" height="30"/><path class="sp" d="M655 3038H923M655 3062H923"/><path class="cd" d="M761 3062V3086M855 3062V3086"/><rect class="ol" x="655" y="3008" width="268" height="78"/><text class="ti" x="660" y="3025">deployment_environment</text><text class="e" x="919" y="3027">[table]</text><text class="dt" x="659" y="3054">...</text><text x="659" y="3078">&lt; 4</text><text class="e" x="851" y="3078">0 rows</text><text class="e" x="919" y="3078">3 &gt;</text></g>

<g id="deployment_project"><rect class="tb" x="303" y="3080" width="220" height="78"/><rect class="hd" x="303" y="3080" width="220" height="30"/><path class="sp" d="M303 3110H523M303 3134H523"/><path class="cd" d="M384 3134V3158M468 3134V3158"/><rect class="ol" x="303" y="3080" width="220" height="78"/><text class="ti" x="308" y="3097">deployment_project</text><text class="e" x="519" y="3099">[table]</text><text class="dt" x="307" y="3126">...</text><text x="307" y="3150">&lt; 2</text><text class="e" x="464" y="3150">0 rows</text><text class="e" x="519" y="3150">5 &gt;</text></g>

<g id="deployment_project_item"><rect class="tb" x="657" y="3114" width="264" height="78"/><rect class="hd" x="657" y="3114" width="264" height="30"/><path class="sp" d="M657 3144H921M657 3168H921"/><path class="cd" d="M761 3168V3192M855 3168V3192"/><rect class="ol" x="657" y="3114" width="264" height="78"/><text class="ti" x="662" y="3131">deployment_project_item</text><text class="e" x="917" y="3133">[table]</text><text class="dt" x="661" y="3160">...</text><text x="661" y="3184">&lt; 2</text><text class="e" x="851" y="3184">0 rows</text><text class="e" x="917" y="3184">1 &gt;</text></g>

<g id="deployment_result"><rect class="tb" x="1059" y="3181" width="212" height="78"/><rect class="hd" x="1059" y="3181" width="212" height="30"/><path class="sp" d="M1059 3211H1271M1059 3235H1271"/><path class="cd" d="M1136 3235V3259M1216 3235V3259"/><rect class="ol" x="1059" y="3181" width="212" height="78"/><text class="ti" x="1064" y="3198">deployment_result</text><text class="e" x="1267" y="3200">[table]</text><text class="dt" x="1063" y="3227">...</text><text x="1063" y="3251">&lt; 4</text><text class="e" x="1212" y="3251">0 rows</text><text class="e" x="1267" y="3251">1 &gt;</text></g>

<g id="deployment_version_naming"><rect class="tb" x="647" y="3255" width="286" height="78"/><rect class="hd" x="647" y="3255" width="286" height="30"/><path class="sp" d="M647 3285H933M647 3309H933"/><path class="cd" d="M761 3309V3333M860 3309V3333"/><rect class="ol" x="647" y="3255" width="286" height="78"/><text class="ti" x="652" y="3272">deployment_version_naming</text><text class="e" x="929" y="3274">[table]</text><text class="dt" x="651" y="3301">...</text><text x="651" y="3325">&lt; 2</text><text class="e" x="856" y="3325">0 rows</text><text class="e" x="929" y="3325">1 &gt;</text></g>

<g id="deployment_version_item"><rect class="tb" x="1031" y="3332" width="265" height="78"/><rect class="hd" x="1031" y="3332" width="265" height="30"/><path class="sp" d="M1031 3362H1296M1031 3386H1296"/><path class="cd" d="M1136 3386V3410M1229 3386V3410"/><rect class="ol" x="1031" y="3332" width="265" height="78"/><text class="ti" x="1036" y="3349">deployment_version_item</text><text class="e" x="1292" y="3351">[table]</text><text class="dt" x="1035" y="3378">...</text><text x="1035" y="3402">&lt; 2</text><text class="e" x="1225" y="3402">0 rows</text><text class="e" x="1292" y="3402">1 &gt;</text></g>

<g id="elastic_image"><rect class="tb" x="329" y="3382" width="169" height="78"/><rect class="hd" x="329" y="3382" width="169" height="30"/><path class="sp" d="M329 3412H498M329 3436H498"/><path class="cd" d="M380 3436V3460M456 3436V3460"/><rect class="ol" x="329" y="3382" width="169" height="78"/><text class="ti" x="334" y="3399">elastic_image</text><text class="e" x="494" y="3401">[table]</text><text class="dt" x="333" y="3428">...</text><text x="333" y="3452">&lt; 2</text><text class="e" x="452" y="3452">41 rows</text><text class="e" x="494" y="3452">3 &gt;</text></g>

<g id="deployment_version"><rect class="tb" x="679" y="3396" width="222" height="78"/><rect class="hd" x="679" y="3396" width="222" height="30"/><path class="sp" d="M679 3426H901M679 3450H901"/><path class="cd" d="M761 3450V3474M843 3450V3474"/><rect class="ol" x="679" y="3396" width="222" height="78"/><text class="ti" x="684" y="3413">deployment_version</text><text class="e" x="897" y="3415">[table]</text><text class="dt" x="683" y="3442">...</text><text x="683" y="3466">&lt; 4</text><text class="e" x="839" y="3466">0 rows</text><text class="e" x="897" y="3466">6 &gt;</text></g>

<g id="deployment_version_status"><rect class="tb" x="1027" y="3455" width="275" height="78"/><rect class="hd" x="1027" y="3455" width="275" height="30"/><path class="sp" d="M1027 3485H1302M1027 3509H1302"/><path class="cd" d="M1143 3509V3533M1242 3509V3533"/><rect class="ol" x="1027" y="3455" width="275" height="78"/><text class="ti" x="1032" y="3472">deployment_version_status</text><text class="e" x="1298" y="3474">[table]</text><text class="dt" x="1031" y="3501">...</text><text x="1031" y="3525">&lt; 2</text><text class="e" x="1238" y="3525">0 rows</text></g>

<g id="imserver"><rect class="tb" x="346" y="3487" width="134" height="78"/><rect class="hd" x="346" y="3487" width="134" height="30"/><path class="sp" d="M346 3517H480M346 3541H480"/><path class="cd" d="M391 3541V3565M455 3541V3565"/><rect class="ol" x="346" y="3487" width="134" height="78"/><text class="ti" x="351" y="3504">imserver</text><text class="e" x="476" y="3506">[table]</text><text class="dt" x="350" y="3533">...</text><text x="350" y="3557">&lt; 1</text><text class="e" x="451" y="3557">0 rows</text></g>

<g id="quick_filters"><rect class="tb" x="334" y="3592" width="158" height="78"/><rect class="hd" x="334" y="3592" width="158" height="30"/><path class="sp" d="M334 3622H492M334 3646H492"/><path class="cd" d="M385 3646V3670M451 3646V3670"/><rect class="ol" x="334" y="3592" width="158" height="78"/><text class="ti" x="339" y="3609">quick_filters</text><text class="e" x="488" y="3611">[table]</text><text class="dt" x="338" y="3638">...</text><text x="338" y="3662">&lt; 1</text><text class="e" x="447" y="3662">0 rows</text><text class="e" x="488" y="3662">1 &gt;</text></g>

<g id="quick_filter_rules"><rect class="tb" x="692" y="3627" width="196" height="78"/><rect class="hd" x="692" y="3627" width="196" height="30"/><path class="sp" d="M692 3657H888M692 3681H888"/><path class="cd" d="M768 3681V3705M848 3681V3705"/><rect class="ol" x="692" y="3627" width="196" height="78"/><text class="ti" x="697" y="3644">quick_filter_rules</text><text class="e" x="884" y="3646">[table]</text><text class="dt" x="696" y="3673">...</text><text x="696" y="3697">&lt; 2</text><text class="e" x="844" y="3697">0 rows</text></g>

<g id="trusted_apps"><rect class="tb" x="331" y="3734" width="165" height="78"/><rect class="hd" x="331" y="3734" width="165" height="30"/><path class="sp" d="M331 3764H496M331 3788H496"/><path class="cd" d="M385 3788V3812M453 3788V3812"/><rect class="ol" x="331" y="3734" width="165" height="78"/><text class="ti" x="336" y="3751">trusted_apps</text><text class="e" x="492" y="3753">[table]</text><text class="dt" x="335" y="3780">...</text><text x="335" y="3804">&lt; 1</text><text class="e" x="449" y="3804">0 rows</text><text class="e" x="492" y="3804">2 &gt;</text></g>

<g id="user_comment"><rect class="tb" x="324" y="3839" width="180" height="78"/><rect class="hd" x="324" y="3839" width="180" height="30"/><path class="sp" d="M324 3869H504M324 3893H504"/><path class="cd" d="M391 3893V3917M467 3893V3917"/><rect class="ol" x="324" y="3839" width="180" height="78"/><text class="ti" x="329" y="3856">user_comment</text><text class="e" x="500" y="3858">[table]</text><text class="dt" x="328" y="3885">...</text><text x="328" y="3909">&lt; 1</text><text class="e" x="463" y="3909">0 rows</text></g>

<g id="vcs_branch"><rect class="tb" x="338" y="3944" width="150" height="78"/><rect class="hd" x="338" y="3944" width="150" height="30"/><path class="sp" d="M338 3974H488M338 3998H488"/><path class="cd" d="M391 3998V4022M459 3998V4022"/><rect class="ol" x="338" y="3944" width="150" height="78"/><text class="ti" x="343" y="3961">vcs_branch</text><text class="e" x="484" y="3963">[table]</text><text class="dt" x="342" y="3990">...</text><text x="342" y="4014">&lt; 2</text><text class="e" x="455" y="4014">0 rows</text></g>

<g id="vcs_tag"><rect class="tb" x="730" y="4049" width="120" height="78"/><rect class="hd" x="730" y="4049" width="120" height="30"/><path class="sp" d="M730 4079H850M730 4103H850"/><path class="cd" d="M768 4103V4127M829 4103V4127"/><rect class="ol" x="730" y="4049" width="120" height="78"/><text class="ti" x="735" y="4066">vcs_tag</text><text class="e" x="846" y="4068">[table]</text><text class="dt" x="734" y="4095">...</text><text x="734" y="4119">&lt; 2</text><text class="e" x="825" y="4119">0 rows</text></g>

<g id="vcs_location"><rect class="tb" x="334" y="4085" width="158" height="78"/><rect class="hd" x="334" y="4085" width="158" height="30"/><path class="sp" d="M334 4115H492M334 4139H492"/><path class="cd" d="M379 4139V4163M444 4139V4163"/><rect class="ol" x="334" y="4085" width="158" height="78"/><text class="ti" x="339" y="4102">vcs_location</text><text class="e" x="488" y="4104">[table]</text><text class="dt" x="338" y="4131">...</text><text x="338" y="4155">&lt; 2</text><text class="e" x="440" y="4155">0 rows</text><text class="e" x="488" y="4155">10 &gt;</text></g>

<g id="webhook_response"><rect class="tb" x="307" y="4191" width="211" height="78"/><rect class="hd" x="307" y="4191" width="211" height="30"/><path class="sp" d="M307 4221H518M307 4245H518"/><path class="cd" d="M391 4245V4269M474 4245V4269"/><rect class="ol" x="307" y="4191" width="211" height="78"/><text class="ti" x="312" y="4208">webhook_response</text><text class="e" x="514" y="4210">[table]</text><text class="dt" x="311" y="4237">...</text><text x="311" y="4261">&lt; 2</text><text class="e" x="470" y="4261">0 rows</text></g>

<g id="webhook_template"><rect class="tb" x="306" y="4296" width="213" height="78"/><rect class="hd" x="306" y="4296" width="213" height="30"/><path class="sp" d="M306 4326H519M306 4350H519"/><path class="cd" d="M391 4350V4374M475 4350V4374"/><rect class="ol" x="306" y="4296" width="213" height="78"/><text class="ti" x="311" y="4313">webhook_template</text><text class="e" x="515" y="4315">[table]</text><text class="dt" x="310" y="4342">...</text><text x="310" y="4366">&lt; 1</text><text class="e" x="471" y="4366">2 rows</text></g>

<text x="17" y="4413">Generated by SchemaSpy</text>
</svg>
